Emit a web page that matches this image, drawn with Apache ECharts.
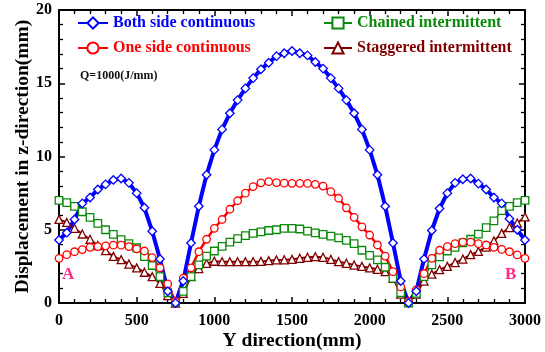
<!DOCTYPE html>
<html>
<head>
<meta charset="utf-8">
<script src="https://cdn.jsdelivr.net/npm/echarts@6/dist/echarts.min.js"></script>
<style>
  html, body { margin: 0; padding: 0; background: #fff; }
  #container { width: 545px; height: 352px; }
</style>
</head>
<body>
<div id="container"></div>
<script>
// Y direction positions (mm)
const yPos = [0, 50, 100, 150, 200, 250, 300, 350, 400, 450, 500, 550, 600, 650, 700, 750,
  800, 850, 900, 950, 1000, 1050, 1100, 1150, 1200, 1250, 1300, 1350, 1400, 1450, 1500,
  1550, 1600, 1650, 1700, 1750, 1800, 1850, 1900, 1950, 2000, 2050, 2100, 2150, 2200, 2250,
  2300, 2350, 2400, 2450, 2500, 2550, 2600, 2650, 2700, 2750, 2800, 2850, 2900, 2950, 3000]

const bothSide = [4.3, 4.8, 5.7, 6.8, 7.2, 7.75, 8.1, 8.4, 8.5, 8.2, 7.5, 6.5, 4.9, 3.0, 0.8, 0,
  1.5, 4.1, 6.6, 8.75, 10.45, 11.85, 12.95, 13.85, 14.65, 15.35, 15.95, 16.4, 16.85, 17.05, 17.2,
  17.05, 16.9, 16.45, 16.0, 15.35, 14.65, 13.85, 12.95, 11.85, 10.45, 8.75, 6.6, 4.1, 1.5, 0,
  0.8, 3.0, 4.95, 6.45, 7.5, 8.2, 8.45, 8.5, 8.15, 7.75, 7.2, 6.8, 5.75, 5.0, 4.3]

const oneSide = [3.05, 3.3, 3.5, 3.65, 3.8, 3.85, 3.9, 3.95, 3.95, 3.85, 3.7, 3.55, 3.1, 2.4, 1.3, 0.1,
  1.7, 2.4, 3.5, 4.35, 5.1, 5.7, 6.4, 6.98, 7.5, 7.95, 8.2, 8.28, 8.22, 8.18, 8.17,
  8.17, 8.16, 8.1, 7.98, 7.6, 7.15, 6.5, 5.85, 5.2, 4.64, 3.96, 3.2, 2.14, 1.1, 0.1,
  0.9, 2.0, 3.05, 3.6, 3.85, 4.05, 4.15, 4.15, 4.05, 3.96, 3.8, 3.66, 3.5, 3.28, 3.05]

const chained = [7.0, 6.85, 6.6, 6.23, 5.85, 5.44, 5.0, 4.68, 4.33, 4.05, 3.77, 3.17, 2.56, 1.8, 0.7, 0.05,
  0.8, 1.8, 2.6, 3.2, 3.55, 3.87, 4.15, 4.4, 4.6, 4.75, 4.85, 4.95, 5.0, 5.1, 5.1,
  5.05, 4.9, 4.78, 4.68, 4.57, 4.45, 4.28, 4.05, 3.6, 3.25, 2.94, 2.44, 1.68, 0.7, 0,
  0.66, 1.8, 2.6, 3.15, 3.55, 3.8, 4.1, 4.35, 4.7, 5.15, 5.6, 6.3, 6.6, 6.85, 7.0]

const staggered = [5.71, 5.5, 5.1, 4.71, 4.35, 3.92, 3.57, 3.18, 2.96, 2.66, 2.4, 2.1, 1.8, 1.34, 0.5, 0,
  0.66, 1.8, 2.35, 2.7, 2.85, 2.82, 2.82, 2.82, 2.82, 2.82, 2.84, 2.89, 2.94, 2.95, 2.98,
  3.05, 3.12, 3.16, 3.12, 2.98, 2.82, 2.71, 2.59, 2.5, 2.4, 2.3, 2.14, 1.68, 0.61, 0.1,
  0.61, 1.5, 1.97, 2.28, 2.5, 2.76, 3.0, 3.3, 3.52, 3.82, 4.24, 4.75, 5.15, 5.46, 5.88]

const serif = '"Liberation Serif", "Times New Roman", serif'
const colors = {
  'Both side continuous': '#0000ff',
  'One side continuous': '#ff0000',
  'Chained intermittent': '#0a8a0a',
  'Staggered intermittent': '#800000'
}

const pairs = (vals) => yPos.map((x, i) => [x, vals[i]])

const myChart = echarts.init(document.getElementById('container'))

const tickCommon = {
  axisLine: { show: true, onZero: false, lineStyle: { color: '#000', width: 2 } },
  axisTick: { show: true, inside: true, length: 6, lineStyle: { color: '#000', width: 1.5 } },
  minorTick: { show: true, splitNumber: 5, length: 4, lineStyle: { color: '#000', width: 1.3 } },
  splitLine: { show: false }
}

function lineSeries(name, data, width, symbol, size) {
  const color = colors[name]
  return {
    name: name,
    type: 'line',
    data: pairs(data),
    symbol: symbol,
    symbolSize: size,
    showAllSymbol: true,
    lineStyle: { color: color, width: width },
    itemStyle: { color: '#fff', borderColor: color, borderWidth: 1.3 },
    emphasis: { disabled: true }
  }
}

const legendItem = (name) => ({
  name: name,
  textStyle: { color: colors[name], fontFamily: serif, fontWeight: 'bold', fontSize: 16 }
})

myChart.setOption({
  animation: false,
  textStyle: { fontFamily: serif },
  grid: { left: 59, right: 20, top: 10, bottom: 49, outerBoundsMode: 'none', containLabel: false },
  legend: [{
    left: 77, top: 15, padding: 0, orient: 'vertical', itemWidth: 30, itemHeight: 14, itemGap: 9,
    data: [legendItem('Both side continuous'), legendItem('One side continuous')]
  }, {
    left: 323, top: 15, padding: 0, orient: 'vertical', itemWidth: 28, itemHeight: 14, itemGap: 9,
    data: [legendItem('Chained intermittent'), legendItem('Staggered intermittent')]
  }],
  xAxis: [{
    type: 'value', min: 0, max: 3000, interval: 500,
    name: 'Y direction(mm)', nameLocation: 'middle', nameGap: 28, nameMoveOverlap: false,
    nameTextStyle: { fontFamily: serif, fontWeight: 'bold', fontSize: 19.5, color: '#000' },
    axisLabel: { fontFamily: serif, fontWeight: 'bold', fontSize: 16, color: '#000', margin: 10,
      formatter: (v) => String(v) },
    ...tickCommon
  }, {
    type: 'value', min: 0, max: 3000, interval: 500, position: 'top',
    axisLabel: { show: false },
    ...tickCommon
  }],
  yAxis: [{
    type: 'value', min: 0, max: 20, interval: 5,
    name: 'Displacement in z-direction(mm)', nameLocation: 'middle', nameGap: 26, nameMoveOverlap: false,
    nameTextStyle: { fontFamily: serif, fontWeight: 'bold', fontSize: 19.5, color: '#000' },
    axisLabel: { fontFamily: serif, fontWeight: 'bold', fontSize: 16, color: '#000', margin: 7 },
    ...tickCommon
  }, {
    type: 'value', min: 0, max: 20, interval: 5, position: 'right',
    axisLabel: { show: false },
    ...tickCommon
  }],
  graphic: [
    { type: 'text', left: 80, top: 70, style: { text: 'Q=1000(J/mm)', font: 'bold 12px ' + serif, fill: '#111' } },
    { type: 'text', left: 62, top: 266, style: { text: 'A', font: 'bold 17px ' + serif, fill: '#ff2a8a' } },
    { type: 'text', left: 505, top: 266, style: { text: 'B', font: 'bold 17px ' + serif, fill: '#ff2a8a' } }
  ],
  series: [
    lineSeries('Staggered intermittent', staggered, 2, 'triangle', 8),
    lineSeries('Chained intermittent', chained, 1.5, 'rect', 7.5),
    lineSeries('One side continuous', oneSide, 2.5, 'circle', 7.5),
    lineSeries('Both side continuous', bothSide, 4, 'diamond', 8.5)
  ]
})
</script>
</body>
</html>
